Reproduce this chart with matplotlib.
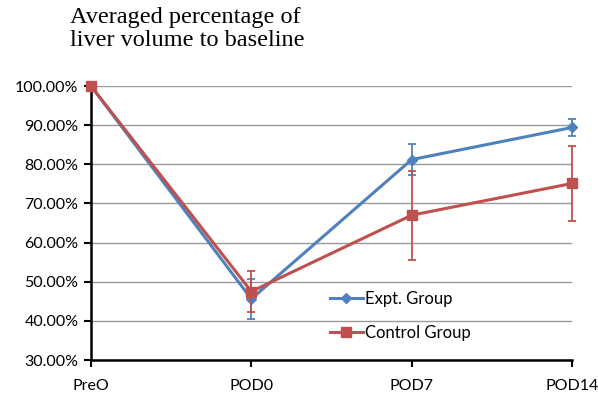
import matplotlib.pyplot as plt
from matplotlib.ticker import FuncFormatter
from matplotlib.lines import Line2D

momentos = ["PreO", "POD0", "POD7", "POD14"]
expt = [100.0, 45.6, 81.2, 89.4]
expt_err = [0.0, 5.2, 4.0, 2.2]
controle = [100.0, 47.5, 67.0, 75.1]
controle_err = [0.0, 5.2, 11.4, 9.6]

azul = "#4F81BD"
vermelho = "#C0504D"

plt.rcParams['font.family'] = ['Lato', 'DejaVu Sans']

fig = plt.figure(figsize=(5.98, 3.94), dpi=100)
ax = fig.add_axes([91/598, 34/394, (572-91)/598, (360-86)/394])

x = list(range(len(momentos)))

ax.errorbar(x, expt, yerr=expt_err, color=azul, lw=2.2, marker='D', ms=5.5,
            capsize=3, elinewidth=1.3, capthick=1.3, clip_on=False, zorder=3)
ax.errorbar(x, controle, yerr=controle_err, color=vermelho, lw=2.2, marker='s', ms=7.5,
            capsize=3, elinewidth=1.3, capthick=1.3, clip_on=False, zorder=4)

ax.set_xlim(0, 3)
ax.set_ylim(30, 100)
ax.set_yticks(range(30, 101, 10))
ax.yaxis.set_major_formatter(FuncFormatter(lambda v, p: "%.2f%%" % v))
ax.set_xticks(x)
ax.set_xticklabels(momentos)
ax.grid(axis='y', color='#999999', lw=1)
ax.set_axisbelow(True)

for s in ['top', 'right']:
    ax.spines[s].set_visible(False)
for s in ['left', 'bottom']:
    ax.spines[s].set_linewidth(1.8)
ax.tick_params(axis='both', width=1.5, length=5, labelsize=11.5, colors='black')
ax.tick_params(axis='x', pad=9)
ax.tick_params(axis='y', pad=4)

# legenda sem moldura, so linha + marcador
handles = [Line2D([], [], color=azul, lw=2.2, marker='D', ms=5.5),
           Line2D([], [], color=vermelho, lw=2.2, marker='s', ms=7.5)]
ax.legend(handles, ["Expt. Group", "Control Group"], loc='center left',
          bbox_to_anchor=(0.465, 0.16), frameon=False,
          fontsize=12, handlelength=2.0, handletextpad=0.1,
          labelspacing=1.1)

fig.text(70/598, 1 - 7/394, "Averaged percentage of\nliver volume to baseline",
         family='Liberation Serif', fontsize=17.5, va='top', ha='left', linespacing=1.12)

plt.savefig("out.png", dpi=100)
